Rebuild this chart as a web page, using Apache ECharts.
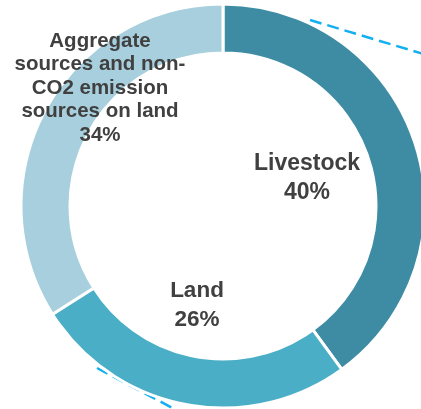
<!DOCTYPE html>
<html>
<head>
<meta charset="utf-8">
<script src="https://cdn.jsdelivr.net/npm/echarts@6/dist/echarts.min.js"></script>
<style>
html,body{margin:0;padding:0;background:#fff;}
#chart{width:421px;height:409px;}
</style>
</head>
<body>
<div id="chart"></div>
<script>
var categories = ['Livestock', 'Land', 'Aggregate\nsources and non-\nCO2 emission\nsources on land'];
var values = [40, 26, 34];
var colors = ['#3d8ca4', '#4aaec6', '#a8cfdd'];

var chart = echarts.init(document.getElementById('chart'));
var labelSpots = [
  {x: 307, y: 178, fontSize: 23, lineHeight: 29},
  {x: 197, y: 305, fontSize: 22.5, lineHeight: 29},
  {x: 100, y: 88, fontSize: 20.5, lineHeight: 23.5}
];
var data = categories.map(function (c, i) {
  return {
    name: c,
    value: values[i],
    itemStyle: {color: colors[i]},
    label: {fontSize: labelSpots[i].fontSize, lineHeight: labelSpots[i].lineHeight}
  };
});
chart.setOption({
  animation: false,
  graphic: [
    {type: 'line', z: -1, shape: {x1: 310, y1: 20, x2: 430, y2: 56},
     style: {stroke: '#12b0f0', lineWidth: 2.5, lineDash: [12, 6]}},
    {type: 'line', z: -1, shape: {x1: 97, y1: 368, x2: 180, y2: 412},
     style: {stroke: '#12b0f0', lineWidth: 2.5, lineDash: [12, 6]}}
  ],
  series: [{
    type: 'pie',
    center: [223, 206],
    radius: [153, 202],
    startAngle: 90,
    clockwise: true,
    z: 5,
    itemStyle: {borderColor: '#ffffff', borderWidth: 3},
    label: {
      show: true,
      position: 'inside',
      formatter: '{b}\n{d}%',
      fontFamily: 'Liberation Sans, Arial, sans-serif',
      fontWeight: 'bold',
      color: '#404040',
      align: 'center'
    },
    labelLine: {show: false},
    labelLayout: function (p) {
      var s = labelSpots[p.dataIndex];
      return {x: s.x, y: s.y, align: 'center', verticalAlign: 'middle'};
    },
    emphasis: {disabled: true},
    data: data
  }]
});
</script>
</body>
</html>
